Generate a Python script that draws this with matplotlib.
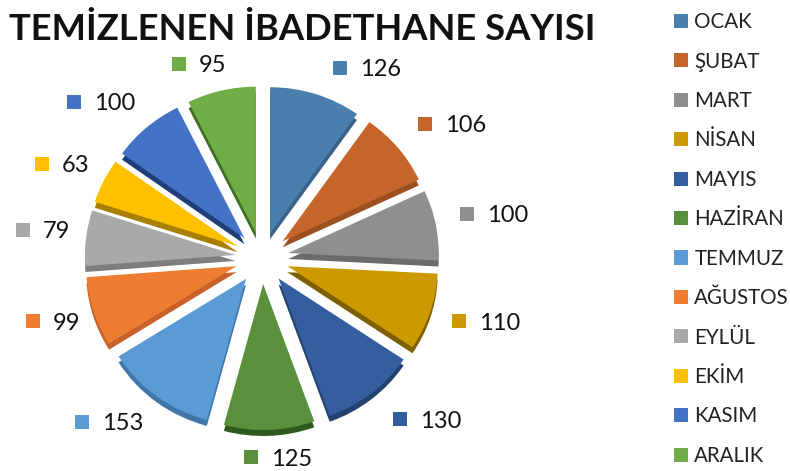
import matplotlib
matplotlib.use("Agg")
import matplotlib.pyplot as plt

plt.rcParams["font.family"] = ["Lato", "DejaVu Sans"]

months = ["OCAK", "ŞUBAT", "MART", "NİSAN", "MAYIS", "HAZİRAN",
          "TEMMUZ", "AĞUSTOS", "EYLÜL", "EKİM", "KASIM", "ARALIK"]
counts = [126, 106, 100, 110, 130, 125, 153, 99, 79, 63, 100, 95]

colors = ["#4a7ead", "#c5652a", "#8f8f8f", "#cc9a00", "#355e9e", "#5a8f3c",
          "#5b9bd5", "#ed7d31", "#a9a9a9", "#ffc000", "#4472c4", "#70ad47"]
side_colors = ["#3a6188", "#9c4f20", "#6b6b6b", "#7d5f00", "#24426f", "#2f5a1e",
               "#3f75a8", "#c8622a", "#7e7e7e", "#a87f00", "#1f3f7a", "#3f6f25"]

# where the value labels go, in pixels from the top left
label_x = [340, 425, 467, 459, 400, 251, 82, 33, 23, 42, 74, 179]
label_y = [68, 124, 214, 321, 419, 457, 422, 321, 230, 164, 102, 64]

W, H = 790, 471
fig = plt.figure(figsize=(W / 100, H / 100), dpi=100)
ax = fig.add_axes([0, 0, 1, 1])
pie_ax = fig.add_axes([0, 0, 1, 1])

cx, cy = 262, H - 258
R = 146
explode = [26] * len(counts)  # pie takes this in data units, so pixels here
stretch = 1.03  # pie is a bit wider than tall

# darker copy underneath gives the 3d edge
pie_ax.pie(counts, colors=side_colors, explode=explode, startangle=90, counterclock=False,
           radius=R, center=(cx, cy - 6), frame=True)
wedges, _ = pie_ax.pie(counts, colors=colors, explode=explode, startangle=90, counterclock=False,
                       radius=R, center=(cx, cy), frame=True)

pie_ax.set_xlim(cx - cx / stretch, cx + (W - cx) / stretch)
pie_ax.set_ylim(0, H)
pie_ax.set_aspect("auto")
pie_ax.axis("off")

ax.set_xlim(0, W)
ax.set_ylim(0, H)
ax.axis("off")

for x, y, val, c in zip(label_x, label_y, counts, colors):
    ax.plot(x, H - y, "s", color=c, ms=10.5, mew=0)
    ax.text(x + 20, H - y - 2, str(val), fontsize=17, va="center", ha="left", color="#111111")

ax.text(9, H - 30, "TEMİZLENEN İBADETHANE SAYISI", fontsize=26.2, fontweight="bold",
        va="center", ha="left", color="#111111")

ax.legend(wedges, months, loc="upper left", bbox_to_anchor=(668 / W, 1 - 6 / H),
          frameon=False, fontsize=14.8, labelcolor="#222222", handlelength=0.68,
          handleheight=0.68, handletextpad=0.3, labelspacing=0.945,
          borderpad=0.3, borderaxespad=0)

fig.savefig("out.png", dpi=100)
